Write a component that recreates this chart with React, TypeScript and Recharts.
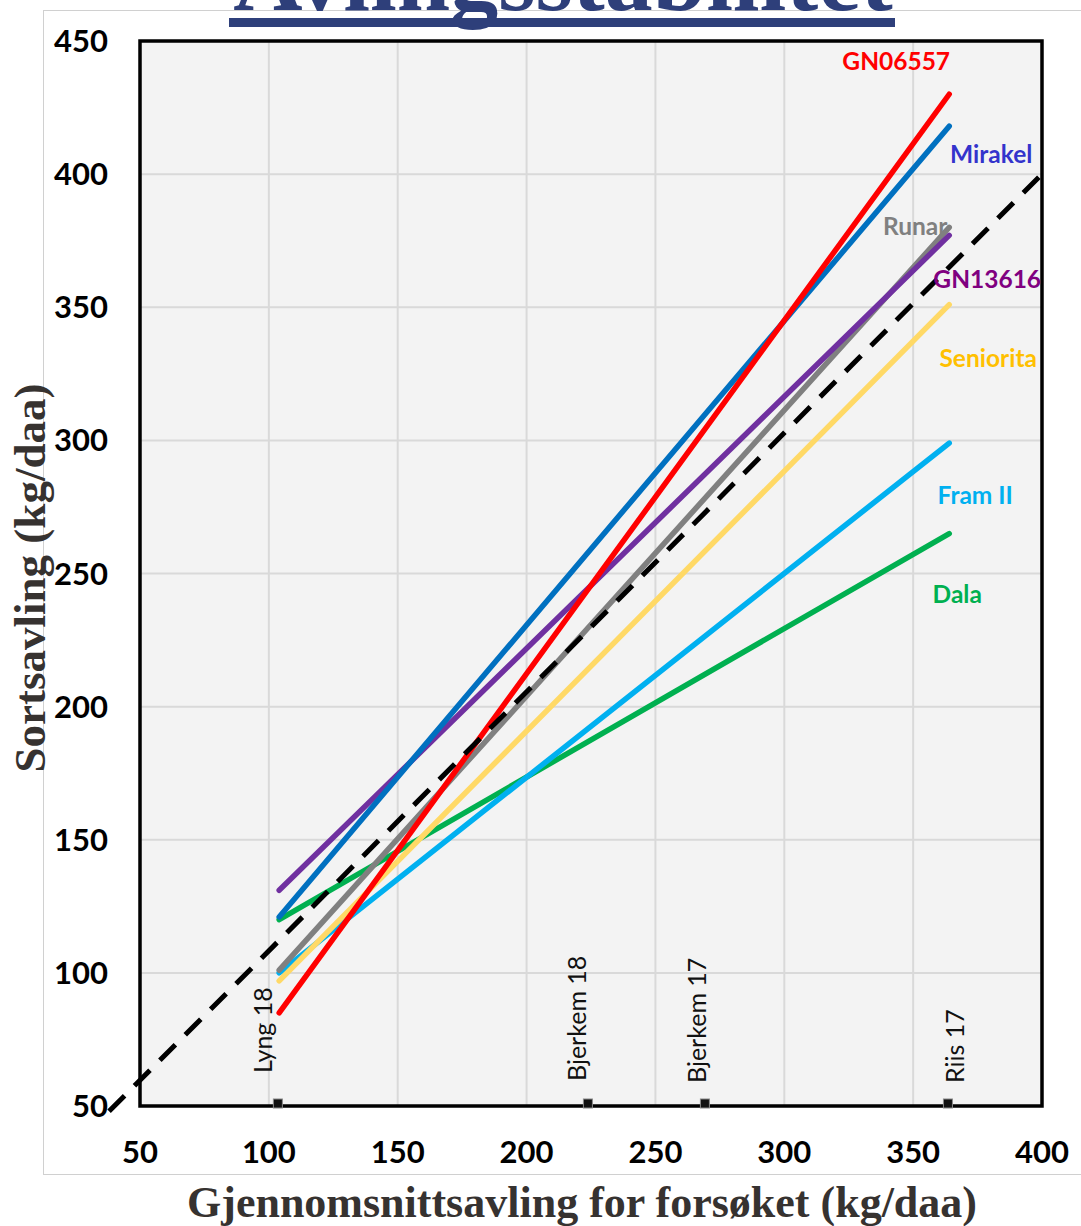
import {
  CartesianGrid,
  ComposedChart,
  Line,
  ReferenceArea,
  ReferenceLine,
  Scatter,
  XAxis,
  YAxis,
} from "recharts"

// trial mean yields (kg/daa) at the two ends of each regression line
const trialMeans = [104, 364]

const gn06557 = [85, 430]
const mirakel = [121, 418]
const runar = [101, 380]
const gn13616 = [131, 377]
const seniorita = [97, 351]
const fram2 = [100, 299]
const dala = [120, 265]

// 1:1 guide line
const guideX = [38, 402]
const guideY = [48, 402]

const sites = ["Lyng 18", "Bjerkem 18", "Bjerkem 17", "Riis 17"]
const siteMeans = [103.5, 223.8, 269.2, 363.5]

const xTicks = [50, 100, 150, 200, 250, 300, 350, 400]
const yTicks = [50, 100, 150, 200, 250, 300, 350, 400, 450]

type SeriesStyle = {
  name: string
  values: number[]
  stroke: string
  labelColor: string
  dx: number
  dy: number
}

// drawn bottom to top
const series: SeriesStyle[] = [
  { name: "Dala", values: dala, stroke: "#00B050", labelColor: "#00B050", dx: 8, dy: 60 },
  { name: "Fram II", values: fram2, stroke: "#00B0F0", labelColor: "#00B0F0", dx: 26, dy: 51 },
  { name: "Seniorita", values: seniorita, stroke: "#FFD966", labelColor: "#FFC000", dx: 39, dy: 53 },
  { name: "Runar", values: runar, stroke: "#808080", labelColor: "#808080", dx: -34, dy: -2 },
  { name: "GN13616", values: gn13616, stroke: "#7030A0", labelColor: "#800080", dx: 38, dy: 43 },
  { name: "Mirakel", values: mirakel, stroke: "#0070C0", labelColor: "#3333CC", dx: 42, dy: 27 },
  { name: "GN06557", values: gn06557, stroke: "#FF0000", labelColor: "#FF0000", dx: -53, dy: -34 },
]

// hand placement of the rotated site names relative to their marker
const siteLabelOffsets = [
  { dx: -16, dy: -33 },
  { dx: -12, dy: -25 },
  { dx: -9, dy: -23 },
  { dx: 6, dy: -23 },
]

const toRows = (ys: number[]) => trialMeans.map((x, i) => ({ x, y: ys[i] }))

const siteRows = sites.map((site, i) => ({ x: siteMeans[i], y: 50, site, i }))

const sansFont = "Lato, 'Open Sans', sans-serif"
const serifFont = "'Liberation Serif', 'Times New Roman', serif"

const SiteMarker = (props: any) => {
  const { cx, cy, payload } = props
  if (cx == null || cy == null) return null
  const off = siteLabelOffsets[payload.i]
  return (
    <g>
      <rect x={cx - 4.5} y={cy - 7} width={9} height={9} fill="#111" stroke="#888" strokeWidth={1} />
      <text
        transform={`translate(${cx + off.dx}, ${cy + off.dy}) rotate(-90)`}
        fontFamily={sansFont}
        fontSize={25}
        fill="#111"
        dominantBaseline="central"
      >
        {payload.site}
      </text>
    </g>
  )
}

const endLabel = (s: SeriesStyle) => (props: any) => {
  const { x, y, index } = props
  if (index !== trialMeans.length - 1 || x == null || y == null) return null
  return (
    <text
      key={s.name}
      x={x + s.dx}
      y={y + s.dy}
      textAnchor="middle"
      dominantBaseline="central"
      fontFamily={sansFont}
      fontWeight={700}
      fontSize={24.5}
      fill={s.labelColor}
    >
      {s.name}
    </text>
  )
}

export default function App() {
  return (
    <div
      style={{
        position: "absolute",
        left: 0,
        top: 0,
        width: 1081,
        height: 1226,
        overflow: "hidden",
        background: "#fff",
      }}
    >
      <div
        style={{
          position: "absolute",
          left: 43,
          top: 10,
          width: 1038,
          height: 1163,
          borderTop: "1px solid #d0d0d0",
          borderLeft: "1px solid #d0d0d0",
          borderBottom: "1px solid #d0d0d0",
        }}
      />
      <div style={{ position: "absolute", left: 0, top: 0 }}>
        <ComposedChart
          width={1081}
          height={1226}
          margin={{ top: 41, right: 39, bottom: 60, left: 40 }}
        >
          <CartesianGrid fill="#f3f3f3" stroke="#d9d9d9" strokeWidth={2} />
          <XAxis
            type="number"
            dataKey="x"
            domain={[50, 400]}
            ticks={xTicks}
            height={60}
            axisLine={false}
            tickLine={false}
            tickSize={0}
            tickMargin={35}
            tick={{ fontSize: 31, fontWeight: 700, fontFamily: sansFont, fill: "#000" }}
          />
          <YAxis
            type="number"
            dataKey="y"
            domain={[50, 450]}
            ticks={yTicks}
            width={100}
            axisLine={false}
            tickLine={false}
            tickSize={0}
            tickMargin={32}
            tick={{ fontSize: 31, fontWeight: 700, fontFamily: sansFont, fill: "#000" }}
          />
          <ReferenceArea
            x1={50}
            x2={400}
            y1={50}
            y2={450}
            fill="none"
            fillOpacity={0}
            stroke="#000"
            strokeWidth={3.5}
          />
          {series.map((s) => (
            <Line
              key={s.name}
              data={toRows(s.values)}
              dataKey="y"
              type="linear"
              stroke={s.stroke}
              strokeWidth={5.5}
              strokeLinecap="round"
              dot={false}
              activeDot={false}
              label={endLabel(s)}
              isAnimationActive={false}
            />
          ))}
          <ReferenceLine
            segment={[
              { x: guideX[0], y: guideY[0] },
              { x: guideX[1], y: guideY[1] },
            ]}
            ifOverflow="visible"
            stroke="#000"
            strokeWidth={5}
            strokeDasharray="22 14"
            zIndex={650}
          />
          <Scatter
            data={siteRows}
            dataKey="y"
            shape={(p: any) => <SiteMarker {...p} />}
            isAnimationActive={false}
          />
        </ComposedChart>
      </div>
      <svg
        width={1081}
        height={1226}
        style={{ position: "absolute", left: 0, top: 0, pointerEvents: "none" }}
      >
        <text
          x={563}
          y={10}
          textAnchor="middle"
          fontFamily={serifFont}
          fontWeight={700}
          fontSize={96}
          fill="#2E3F7A"
        >
          Avlingsstabilitet
        </text>
        <rect x={229} y={18} width={666} height={9} fill="#2E3F7A" />
        <text
          transform="translate(45, 578) rotate(-90)"
          textAnchor="middle"
          fontFamily={serifFont}
          fontWeight={700}
          fontSize={45}
          fill="#363230"
        >
          Sortsavling (kg/daa)
        </text>
        <text
          x={582}
          y={1217}
          textAnchor="middle"
          fontFamily={serifFont}
          fontWeight={700}
          fontSize={44}
          fill="#363230"
        >
          Gjennomsnittsavling for forsøket (kg/daa)
        </text>
      </svg>
    </div>
  )
}
